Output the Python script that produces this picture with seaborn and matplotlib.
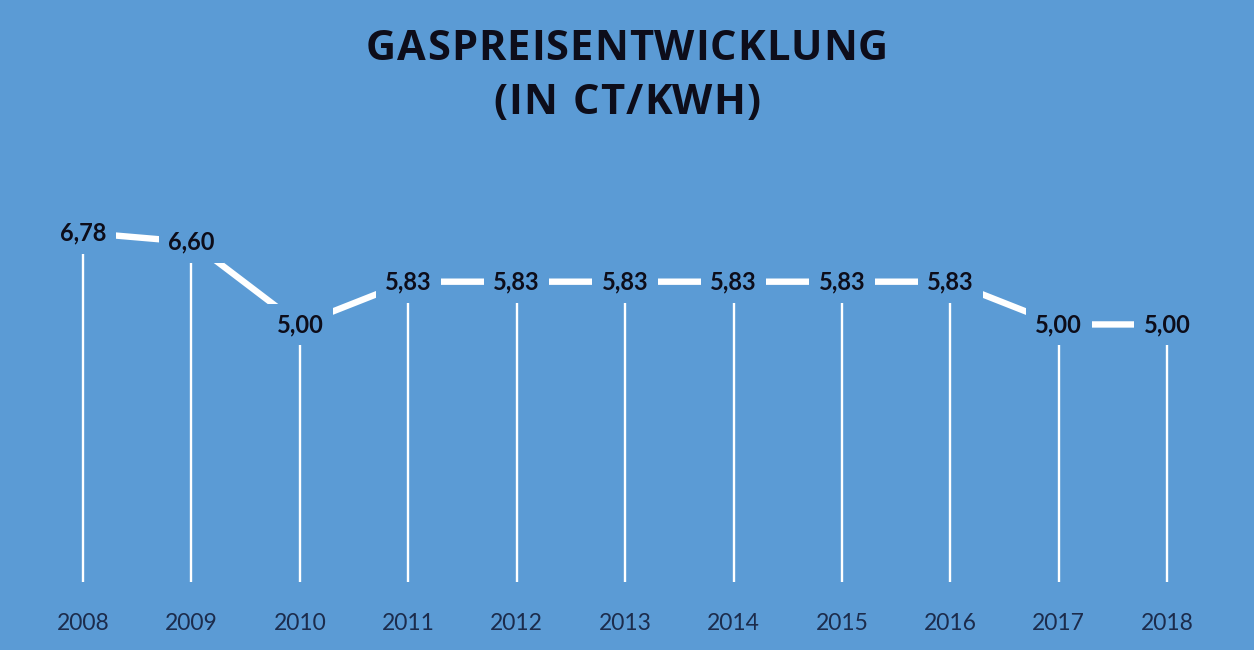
import matplotlib
matplotlib.use("Agg")
import matplotlib.pyplot as plt
import seaborn as sns
import pandas as pd

# Daten aus dem Diagramm
jahre = ["2008", "2009", "2010", "2011", "2012", "2013", "2014", "2015", "2016", "2017", "2018"]
preise = [6.78, 6.60, 5.00, 5.83, 5.83, 5.83, 5.83, 5.83, 5.83, 5.00, 5.00]
titel_zeilen = ["GASPREISENTWICKLUNG", "(IN CT/KWH)"]

BG = "#5b9bd5"
TEXT_DARK = "#0d0d1a"
TICK_COL = "#1c2c4c"

sns.set_style("white")
plt.rcParams["font.family"] = ["Lato", "DejaVu Sans"]

df = pd.DataFrame({"jahr": jahre, "preis": preise})
df["pos"] = range(len(df))

W, H = 1254, 650
fig = plt.figure(figsize=(W / 100, H / 100), dpi=100, facecolor=BG)
ax = fig.add_axes([0.023, 0.1046, 0.951, 0.634])
ax.set_facecolor(BG)

# Fallinien vom Punkt bis zur Grundlinie
ax.vlines(df["pos"], 0, df["preis"], color="white", linewidth=1.7, zorder=1)

sns.lineplot(data=df, x="pos", y="preis", ax=ax, color="white",
             linewidth=4.6, zorder=2, legend=False)

for p, v in zip(df["pos"], df["preis"]):
    ax.text(p, v, f"{v:.2f}".replace(".", ","), ha="center", va="center",
            fontsize=17, fontweight="bold", color=TEXT_DARK, zorder=3,
            bbox=dict(boxstyle="square,pad=0.4", facecolor=BG, edgecolor="none"))

ax.set_xlim(-0.5, len(jahre) - 0.5)
ax.set_ylim(0, 8)
ax.set_xticks(df["pos"])
ax.set_xticklabels(jahre, fontsize=16.5, color=TICK_COL)
ax.tick_params(axis="x", length=0, pad=22)
ax.set_yticks([])
ax.set_xlabel("")
ax.set_ylabel("")
for s in ax.spines.values():
    s.set_visible(False)


def gesperrter_text(zeile, y_px, spacing_px, size=30):
    # Titel mit Zeichenabstand, Buchstabe für Buchstabe gesetzt
    renderer = fig.canvas.get_renderer()
    props = dict(fontsize=size, fontweight="bold", color=TEXT_DARK,
                 family=["Open Sans", "DejaVu Sans"], va="center", ha="left")
    breiten = []
    for ch in zeile:
        t = fig.text(0, 0, ch if ch != " " else "n", **props)
        breiten.append(t.get_window_extent(renderer).width)
        t.remove()
    breiten = [b * 0.5 if ch == " " else b for ch, b in zip(zeile, breiten)]
    gesamt = sum(breiten) + spacing_px * (len(zeile) - 1)
    x = W / 2 - gesamt / 2
    for ch, b in zip(zeile, breiten):
        if ch != " ":
            fig.text(x / W, 1 - y_px / H, ch, **props)
        x += b + spacing_px


gesperrter_text(titel_zeilen[0], 50, 1.0)
gesperrter_text(titel_zeilen[1], 103, 1.0)

fig.savefig("out.png", dpi=100, facecolor=BG)
